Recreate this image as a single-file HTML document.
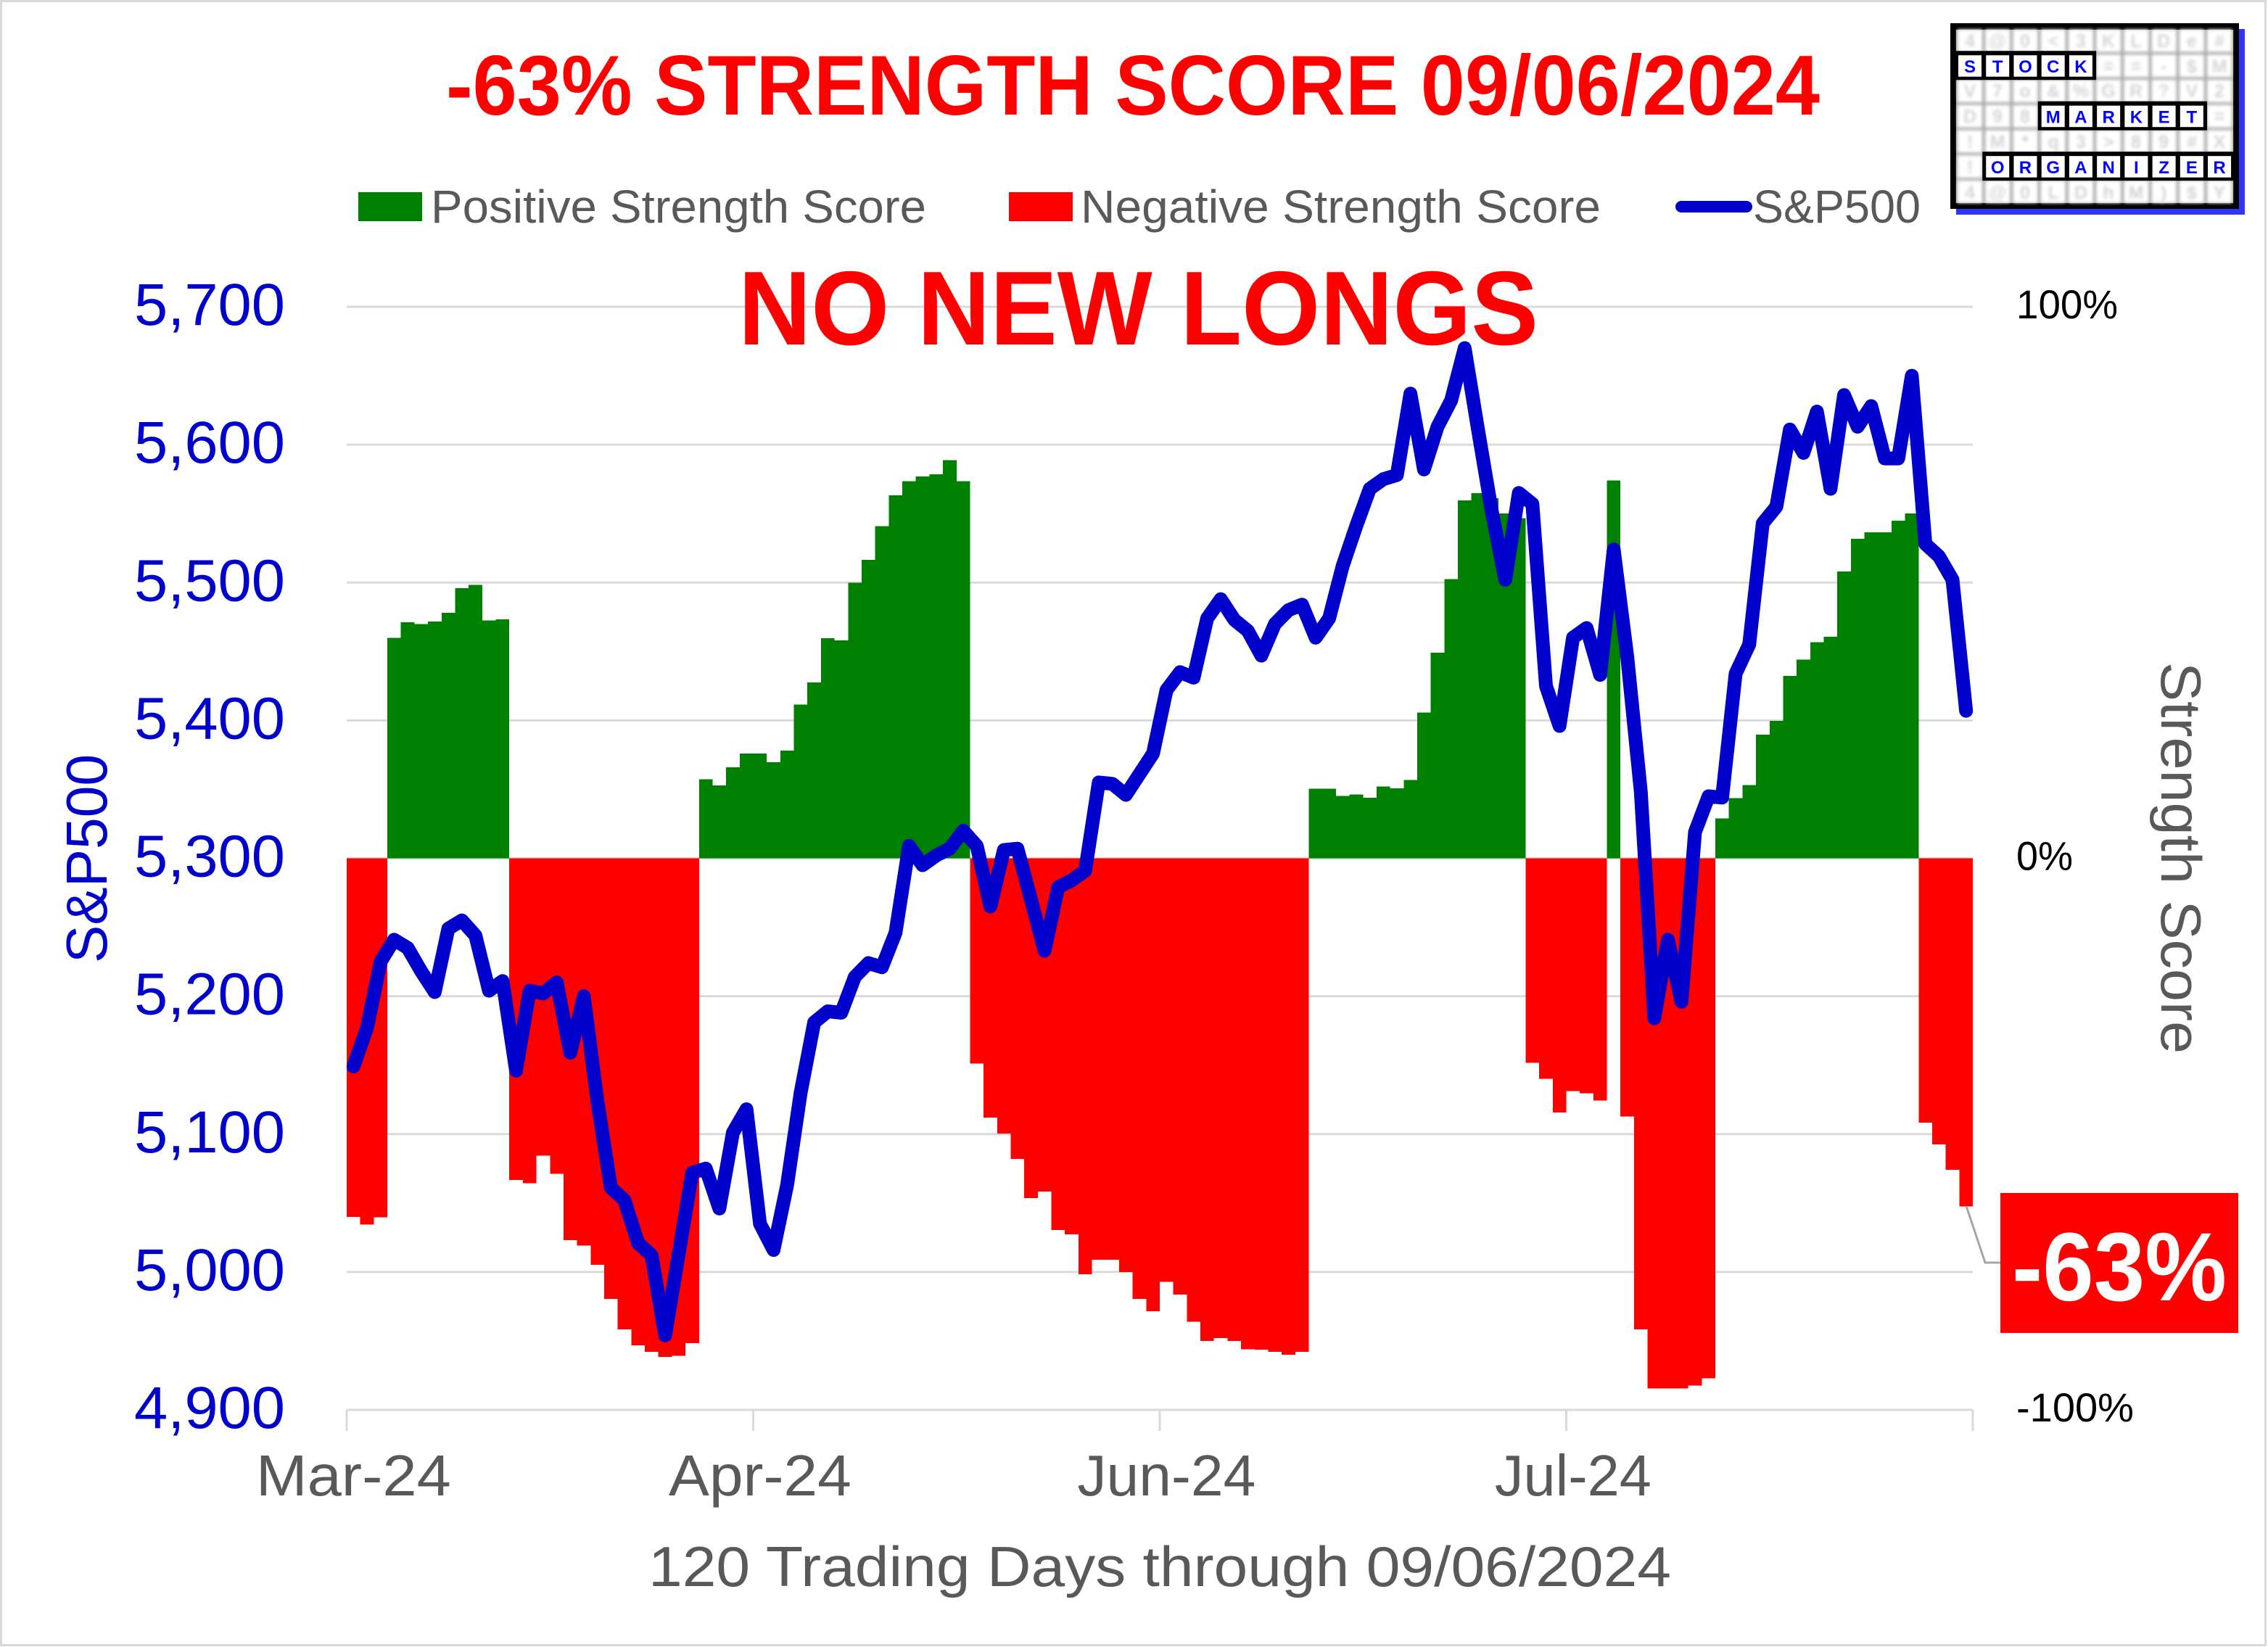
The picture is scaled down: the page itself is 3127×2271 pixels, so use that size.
<!DOCTYPE html>
<html lang="en">
<head>
<meta charset="utf-8">
<title>Strength Score Chart</title>
<style>
html,body{margin:0;padding:0;background:#fff;}
svg{display:block;}
text{font-family:"Liberation Sans",Arial,sans-serif;}
</style>
</head>
<body>
<svg id="chart" xmlns="http://www.w3.org/2000/svg" width="3127" height="2271" viewBox="0 0 3127 2271">
  <defs>
    <filter id="logoBlur" x="-5%" y="-5%" width="110%" height="110%"><feGaussianBlur stdDeviation="2"/></filter>
  </defs>
  <rect x="1.5" y="1.5" width="3122" height="2267" fill="#ffffff" stroke="#d9d9d9" stroke-width="3"/>
  <g id="gridLayer"></g>
  <g id="barLayer" shape-rendering="crispEdges"></g>
  <g id="axisLayer"></g>
  <path id="priceLine" fill="none" stroke="#0000cc" stroke-width="19" stroke-linejoin="round" stroke-linecap="round"/>

  <text x="615" y="158" font-size="117" font-weight="bold" fill="#ff0000" textLength="1894" lengthAdjust="spacingAndGlyphs">-63% STRENGTH SCORE 09/06/2024</text>
  <text x="1018" y="475" font-size="145" font-weight="bold" fill="#ff0000" textLength="1103" lengthAdjust="spacingAndGlyphs">NO NEW LONGS</text>

  <g>
    <rect x="494" y="265" width="88" height="40" fill="#008000"/>
    <text x="594" y="307" font-size="64" fill="#595959" textLength="683" lengthAdjust="spacingAndGlyphs">Positive Strength Score</text>
    <rect x="1391" y="265" width="88" height="40" fill="#ff0000"/>
    <text x="1490" y="307" font-size="64" fill="#595959" textLength="717" lengthAdjust="spacingAndGlyphs">Negative Strength Score</text>
    <line x1="2318" y1="285" x2="2408" y2="285" stroke="#0000cc" stroke-width="16" stroke-linecap="round"/>
    <text x="2417" y="307" font-size="64" fill="#595959" textLength="231" lengthAdjust="spacingAndGlyphs">S&amp;P500</text>
  </g>

  <text transform="translate(147,1328) rotate(-90)" font-size="80" fill="#0000cc" textLength="288" lengthAdjust="spacingAndGlyphs">S&amp;P500</text>
  <text transform="translate(2980,913) rotate(90)" font-size="78" fill="#595959" textLength="540" lengthAdjust="spacingAndGlyphs">Strength Score</text>
  <text x="894" y="2187" font-size="78" fill="#595959" textLength="1410" lengthAdjust="spacingAndGlyphs">120 Trading Days through 09/06/2024</text>

  <g>
    <polyline points="2711,1663 2737,1741 2758,1741" fill="none" stroke="#a6a6a6" stroke-width="3"/>
    <rect x="2758" y="1645" width="328" height="193" fill="#ff0000"/>
    <text x="2774" y="1793" font-size="134" font-weight="bold" fill="#ffffff" textLength="296" lengthAdjust="spacingAndGlyphs">-63%</text>
  </g>

  <g>
    <rect x="2697" y="40" width="398" height="256" fill="#3333ff"/>
    <rect x="2689" y="32" width="398" height="256" fill="#000000"/>
    <rect x="2697" y="41" width="382" height="239" fill="#aaaaaa"/>
    <g id="logoCells" filter="url(#logoBlur)"></g>
    <g filter="url(#logoBlur)" font-size="25" font-weight="bold" fill="#d4d4d4" text-anchor="middle">
      <text x="2716 2754 2792 2831 2869 2907 2945 2983 3022 3060" y="65">4@0&lt;3KLDe#</text>
      <text x="2907 2945 2983 3022 3060" y="100">==-$M</text>
      <text x="2716 2754 2792 2831 2869 2907 2945 2983 3022 3060" y="134">V7o&amp;%GR?V2</text>
      <text x="2716 2754 2792 3060" y="169">D98=</text>
      <text x="2716 2754 2792 2831 2869 2907 2945 2983 3022 3060" y="204">!M*q3&gt;89#X</text>
      <text x="2716" y="239">!</text>
      <text x="2716 2754 2792 2831 2869 2907 2945 2983 3022 3060" y="274">4@0LDhM)$Y</text>
    </g>
    <g id="logoWords"></g>
  </g>
</svg>

<script>
// ---- chart data ----
const dayIndexes = Array.from({length: 120}, function (_, n) { return n; });
const scoreValues = [
  -65.0,-66.4,-65.1,
  40.0,42.8,42.5,42.9,44.5,49.0,49.6,43.1,43.3,
  -58.3,-58.9,-53.9,-57.2,-69.2,-70.2,-73.7,-79.9,-85.4,-88.3,-89.5,-90.4,-90.2,-87.9,
  14.3,13.2,16.5,19.0,19.0,17.4,19.5,27.9,31.9,39.9,39.5,50.0,54.1,60.2,65.8,68.4,69.2,69.6,72.2,68.4,
  -37.2,-47.0,-49.9,-54.5,-61.6,-60.4,-67.4,-68.2,-75.4,-72.8,-72.8,-75.0,-79.9,-82.1,-76.8,-79.1,-84.0,-87.5,-87.0,-87.5,-89.0,-89.1,-89.5,-90.0,-89.5,
  12.6,12.6,11.3,11.6,11.0,13.0,12.7,14.2,26.4,37.3,50.6,64.9,66.2,65.3,62.5,61.7,
  -37.1,-40.0,-46.1,-42.2,-42.6,-43.9,
  68.5,
  -46.8,-85.4,-96.1,-96.1,-96.1,-95.6,-94.3,
  7.2,10.9,13.3,22.4,24.9,33.1,36.0,39.2,40.2,52.0,57.9,59.1,59.1,61.2,62.5,
  -47.9,-51.9,-56.5,-63.1
];
const priceValues = [
  5149,5177,5225,5241,5235,5218,5203,5249,5255,5244,
  5204,5211,5146,5204,5202,5210,5159,5200,5124,5061,
  5052,5021,5012,4954,5013,5072,5075,5046,5101,5118,
  5035,5016,5063,5130,5181,5189,5188,5214,5224,5221,
  5246,5309,5295,5302,5307,5320,5309,5265,5306,5307,
  5270,5233,5279,5284,5291,5355,5354,5346,5361,5376,
  5422,5435,5431,5474,5488,5473,5465,5447,5470,5480,
  5484,5460,5474,5512,5541,5568,5575,5578,5637,5582,
  5613,5632,5670,5610,5552,5502,5565,5557,5425,5396,
  5460,5467,5433,5524,5446,5348,5184,5241,5196,5319,
  5345,5344,5434,5455,5543,5555,5611,5594,5624,5568,
  5636,5613,5628,5590,5590,5650,5528,5519,5502,5407
];
const priceTicks = [4900,5000,5100,5200,5300,5400,5500,5600,5700];
const priceTickLabels = ['4,900','5,000','5,100','5,200','5,300','5,400','5,500','5,600','5,700'];
const scoreTicks = [-100,0,100];
const scoreTickLabels = ['-100%','0%','100%'];
const monthTickDays = [0,30,60,90];
const monthLabels = ['Mar-24','Apr-24','Jun-24','Jul-24'];
const logoWordList = ['STOCK','MARKET','ORGANIZER'];

// ---- axis functions ----
const SVGNS = 'http://www.w3.org/2000/svg';
const plot = {left: 478, right: 2720, top: 423, bottom: 1944};
function xEdge(i) { return plot.left + i * (plot.right - plot.left) / dayIndexes.length; }
function xCenter(i) { return xEdge(i + 0.5); }
function yPrice(v) { return plot.bottom - (v - 4900) / 800 * (plot.bottom - plot.top); }
function yScore(v) { return plot.bottom - (v + 100) / 200 * (plot.bottom - plot.top); }

function make(tag, attrs, parent) {
  const el = document.createElementNS(SVGNS, tag);
  Object.keys(attrs).forEach(function (k) { el.setAttribute(k, attrs[k]); });
  parent.appendChild(el);
  return el;
}
// rendered text widths, fitted to the reference typeface
function scoreLabelWidth(text) { return text.length === 2 ? 78 : (text.length === 4 ? 140 : 162); }
function monthLabelWidth(text) {
  if (text.indexOf('Mar') === 0) { return 269; }
  if (text.indexOf('Jul') === 0) { return 216; }
  return text.indexOf('Jun') === 0 ? 246 : 252;
}

// gridlines and price tick labels
const gridLayer = document.getElementById('gridLayer');
const axisLayer = document.getElementById('axisLayer');
priceTicks.forEach(function (tick, n) {
  const line = make('line', {x1: plot.left, x2: plot.right, y1: yPrice(tick), y2: yPrice(tick), stroke: '#d9d9d9', 'stroke-width': 3}, gridLayer);
  
  
  const label = make('text', {x: 185, y: yPrice(tick) + 25, 'font-size': 82, fill: '#0000cc', textLength: 208, lengthAdjust: 'spacingAndGlyphs'}, axisLayer);
  
  
  label.textContent = priceTickLabels[n];
});

// score tick labels
scoreTicks.forEach(function (tick, n) {
  const text = scoreTickLabels[n];
  const label = make('text', {x: 2780, y: yScore(tick) + 16, 'font-size': 56, fill: '#000000', textLength: scoreLabelWidth(text), lengthAdjust: 'spacingAndGlyphs'}, axisLayer);
  
  
  label.textContent = text;
});

// month ticks and labels
monthTickDays.concat([dayIndexes.length]).forEach(function (day) {
  const tick = make('line', {x1: xEdge(day), x2: xEdge(day), y1: plot.bottom, y2: plot.bottom + 29, stroke: '#d9d9d9', 'stroke-width': 3}, axisLayer);
  
  
});
monthTickDays.forEach(function (day, n) {
  const label = make('text', {x: xCenter(day), y: 2062, 'font-size': 80, fill: '#595959', 'text-anchor': 'middle', textLength: monthLabelWidth(monthLabels[n]), lengthAdjust: 'spacingAndGlyphs'}, axisLayer);
  
  
  label.textContent = monthLabels[n];
});

// bars
const barLayer = document.getElementById('barLayer');
scoreValues.forEach(function (value, i) {
  const y0 = yScore(0);
  const y1 = yScore(value);
  const bar = make('rect', {
    x: xEdge(i),
    width: xEdge(i + 1) - xEdge(i),
    y: Math.min(y0, y1),
    height: Math.abs(y1 - y0),
    fill: value >= 0 ? '#008000' : '#ff0000'
  }, barLayer);
  
  
});

// S&P500 line
document.getElementById('priceLine').setAttribute('d', priceValues.map(function (v, i) {
  return (i ? 'L' : 'M') + xCenter(i).toFixed(1) + ' ' + yPrice(v).toFixed(1);
}).join(' '));

// logo grid
const COL_W = 38.23, ROW_H = 34.73, LOGO_X = 2700, LOGO_Y = 41.5;
const logoCells = document.getElementById('logoCells');
for (let r = 0; r < 7; r++) {
  for (let c = 0; c < 10; c++) {
    const cell = make('rect', {x: LOGO_X + c * COL_W - 1, y: LOGO_Y + r * ROW_H - 1, width: 34, height: 31, fill: '#ffffff'}, logoCells);
    
    
  }
}
const logoPlacements = [[0,1],[3,3],[1,5]];
const logoWords = document.getElementById('logoWords');
logoWordList.forEach(function (word, w) {
  const startCol = logoPlacements[w][0];
  const row = logoPlacements[w][1];
  const back = make('rect', {x: LOGO_X + startCol * COL_W - 5, y: LOGO_Y + row * ROW_H - 6, width: word.length * COL_W + 4, height: 40, fill: '#000000'}, logoWords);
  
  
  word.split('').forEach(function (ch, k) {
    const cx = LOGO_X + (startCol + k) * COL_W;
    const cell = make('rect', {x: cx, y: LOGO_Y + row * ROW_H, width: 32, height: 29.5, fill: '#ffffff'}, logoWords);
    
    
    const t = make('text', {x: cx + 16, y: LOGO_Y + row * ROW_H + 24, 'font-size': 24, 'font-weight': 'bold', fill: '#0000ff', 'text-anchor': 'middle'}, logoWords);
    
    
    t.textContent = ch;
  });
});
</script>
</body>
</html>
